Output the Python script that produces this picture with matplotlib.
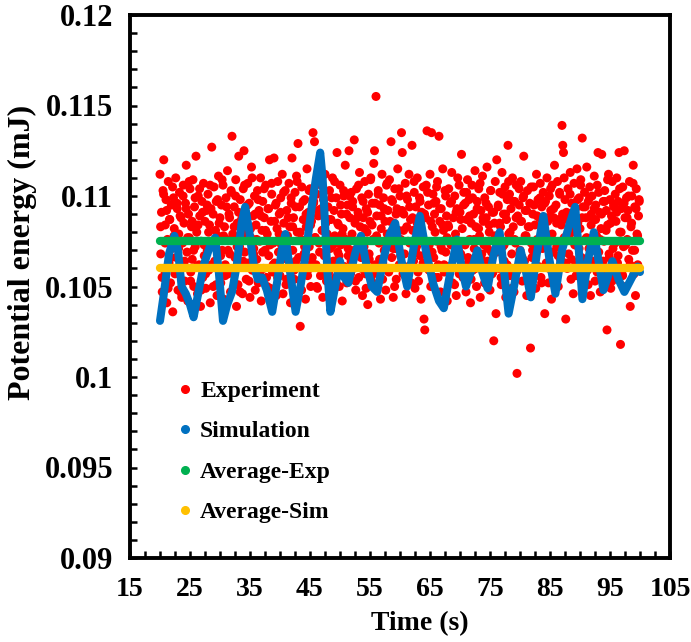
import numpy as np
import matplotlib
matplotlib.use("Agg")
import matplotlib.pyplot as plt
from matplotlib.lines import Line2D
from matplotlib.ticker import MultipleLocator

plt.rcParams['font.family'] = ['Liberation Serif', 'DejaVu Serif']
plt.rcParams['font.weight'] = 'bold'

# ---------------- data ----------------
# Experiment, run A: samples every 0.125 s from 20 s
exp_a_start, exp_a_step = 20.0, 0.125
exp_a_values = [
    0.1112, 0.1068, 0.1091, 0.1047, 0.1103, 0.1120, 0.1059, 0.1084, 0.1098, 0.1041, 0.1076, 0.1108, 0.1063, 0.1087, 0.1052, 0.1095,
    0.1071, 0.1036, 0.1099, 0.1082, 0.1057, 0.1110, 0.1066, 0.1093, 0.1048, 0.1079, 0.1102, 0.1061, 0.1088, 0.1044, 0.1074, 0.1106,
    0.1085, 0.1053, 0.1096, 0.1117, 0.1069, 0.1042, 0.1090, 0.1077, 0.1104, 0.1058, 0.1083, 0.1065, 0.1109, 0.1050, 0.1094, 0.1072,
    0.1122, 0.1080, 0.1046, 0.1100, 0.1062, 0.1089, 0.1039, 0.1075, 0.1097, 0.1055, 0.1107, 0.1067, 0.1086, 0.1049, 0.1092, 0.1070,
    0.1101, 0.1059, 0.1084, 0.1041, 0.1093, 0.1127, 0.1073, 0.1050, 0.1105, 0.1064, 0.1081, 0.1097, 0.1045, 0.1078, 0.1111, 0.1060,
    0.1088, 0.1052, 0.1095, 0.1070, 0.1106, 0.1043, 0.1083, 0.1062, 0.1099, 0.1076, 0.1114, 0.1057, 0.1090, 0.1068, 0.1047, 0.1102,
    0.1133, 0.1079, 0.1058, 0.1094, 0.1066, 0.1109, 0.1039, 0.1085, 0.1051, 0.1122, 0.1072, 0.1098, 0.1061, 0.1087, 0.1046, 0.1104,
    0.1125, 0.1069, 0.1091, 0.1054, 0.1080, 0.1107, 0.1063, 0.1096, 0.1044, 0.1077, 0.1116, 0.1059, 0.1089, 0.1071, 0.1100, 0.1048,
    0.1084, 0.1065, 0.1103, 0.1052, 0.1092, 0.1075, 0.1110, 0.1042, 0.1081, 0.1097, 0.1060, 0.1088, 0.1070, 0.1106, 0.1055, 0.1079,
    0.1093, 0.1067, 0.1120, 0.1049, 0.1086, 0.1101, 0.1058, 0.1074, 0.1121, 0.1063, 0.1095, 0.1045, 0.1082, 0.1108, 0.1069, 0.1090,
    0.1056, 0.1099, 0.1073, 0.1112, 0.1046, 0.1085, 0.1066, 0.1103, 0.1051, 0.1092, 0.1078, 0.1060, 0.1107, 0.1083, 0.1041, 0.1096,
    0.1121, 0.1070, 0.1088, 0.1054, 0.1102, 0.1064, 0.1111, 0.1080, 0.1129, 0.1047, 0.1094, 0.1028, 0.1076, 0.1105, 0.1061, 0.1087,
    0.1068, 0.1098, 0.1043, 0.1083, 0.1115, 0.1059, 0.1091, 0.1072, 0.1104, 0.1050, 0.1086, 0.1066, 0.1135, 0.1097, 0.1130, 0.1077,
    0.1062, 0.1101, 0.1049, 0.1089, 0.1074, 0.1108, 0.1056, 0.1093, 0.1081, 0.1044, 0.1098, 0.1067, 0.1112, 0.1085, 0.1053, 0.1079,
    0.1094, 0.1058, 0.1103, 0.1071, 0.1087, 0.1046, 0.1110, 0.1064, 0.1092, 0.1078, 0.1055, 0.1099, 0.1124, 0.1069, 0.1084, 0.1050,
    0.1106, 0.1073, 0.1090, 0.1042, 0.1082, 0.1100, 0.1061, 0.1117, 0.1076, 0.1052, 0.1095, 0.1067, 0.1125, 0.1088, 0.1057, 0.1102,
    0.1079, 0.1097, 0.1060, 0.1131, 0.1085, 0.1048, 0.1104, 0.1070, 0.1091, 0.1055, 0.1113, 0.1083, 0.1066, 0.1099, 0.1045, 0.1088,
    0.1072, 0.1108, 0.1057, 0.1093, 0.1080, 0.1040, 0.1101, 0.1065, 0.1086, 0.1110, 0.1053, 0.1096, 0.1076, 0.1118, 0.1125, 0.1062,
    0.1155, 0.1089, 0.1051, 0.1103, 0.1074, 0.1095, 0.1043, 0.1082, 0.1112, 0.1063, 0.1099, 0.1070, 0.1086, 0.1048, 0.1106, 0.1079,
    0.1092, 0.1058, 0.1109, 0.1077, 0.1130, 0.1066, 0.1097, 0.1044, 0.1085, 0.1104, 0.1071, 0.1054, 0.1093, 0.1115, 0.1081, 0.1062,
    0.1100, 0.1076, 0.1135, 0.1124, 0.1057, 0.1090, 0.1068, 0.1107, 0.1046, 0.1083, 0.1098, 0.1061, 0.1112, 0.1074, 0.1087, 0.1052,
    0.1128, 0.1081, 0.1064, 0.1102, 0.1049, 0.1094, 0.1072, 0.1110, 0.1058, 0.1087, 0.1099, 0.1067, 0.1043, 0.1091, 0.1077, 0.1105,
    0.1032, 0.1026, 0.1088, 0.1106, 0.1136, 0.1060, 0.1095, 0.1073, 0.1112, 0.1050, 0.1135, 0.1083, 0.1101, 0.1066, 0.1090, 0.1055,
    0.1097, 0.1075, 0.1108, 0.1062, 0.1133, 0.1086, 0.1047, 0.1093, 0.1070, 0.1115, 0.1081, 0.1058, 0.1103, 0.1069, 0.1089, 0.1042,
    0.1084, 0.1104, 0.1061, 0.1096, 0.1073, 0.1113, 0.1052, 0.1088, 0.1066, 0.1100, 0.1079, 0.1045, 0.1093, 0.1110, 0.1070, 0.1057,
    0.1091, 0.1068, 0.1123, 0.1082, 0.1055, 0.1102, 0.1074, 0.1096, 0.1047, 0.1087, 0.1109, 0.1063, 0.1098, 0.1076, 0.1041, 0.1085,
    0.1106, 0.1059, 0.1090, 0.1071, 0.1114, 0.1083, 0.1050, 0.1097, 0.1065, 0.1104, 0.1078, 0.1044, 0.1092, 0.1068, 0.1111, 0.1086,
    0.1073, 0.1099, 0.1054, 0.1088, 0.1116, 0.1064, 0.1094, 0.1080, 0.1048, 0.1103, 0.1069, 0.1091, 0.1058, 0.1020, 0.1085, 0.1108,
    0.1035, 0.1120, 0.1077, 0.1095, 0.1060, 0.1102, 0.1083, 0.1051, 0.1113, 0.1072, 0.1090, 0.1064, 0.1105, 0.1044, 0.1087, 0.1098,
    0.1128, 0.1079, 0.1101, 0.1056, 0.1093, 0.1068, 0.1110, 0.1083, 0.1047, 0.1097, 0.1074, 0.1106, 0.1002, 0.1089, 0.1061, 0.1095,
    0.1070, 0.1108, 0.1086, 0.1053, 0.1099, 0.1122, 0.1064, 0.1092, 0.1078, 0.1045, 0.1103, 0.1083, 0.1059, 0.1096, 0.1016, 0.1074,
    0.1066, 0.1090, 0.1105, 0.1067, 0.1084, 0.1049, 0.1112, 0.1076, 0.1098, 0.1061, 0.1088, 0.1107, 0.1055, 0.1094, 0.1071, 0.1102,
    0.1081, 0.1035, 0.1097, 0.1063, 0.1110, 0.1086, 0.1052, 0.1100, 0.1075, 0.1092, 0.1043, 0.1106, 0.1069, 0.1088, 0.1117, 0.1058,
    0.1095, 0.1072, 0.1108, 0.1050, 0.1087, 0.1101, 0.1065, 0.1084, 0.1139, 0.1128, 0.1124, 0.1077, 0.1098, 0.1032, 0.1091, 0.1060,
    0.1104, 0.1068, 0.1090, 0.1113, 0.1054, 0.1096, 0.1080, 0.1046, 0.1107, 0.1073, 0.1093, 0.1062, 0.1115, 0.1085, 0.1056, 0.1099,
    0.1082, 0.1109, 0.1066, 0.1132, 0.1094, 0.1051, 0.1102, 0.1076, 0.1088, 0.1116, 0.1059, 0.1097, 0.1071, 0.1105, 0.1045, 0.1090,
    0.1100, 0.1064, 0.1087, 0.1111, 0.1053, 0.1095, 0.1078, 0.1106, 0.1124, 0.1069, 0.1091, 0.1047, 0.1082, 0.1123, 0.1060, 0.1097,
    0.1075, 0.1103, 0.1058, 0.1092, 0.1026, 0.1084, 0.1112, 0.1066, 0.1098, 0.1049, 0.1089, 0.1108, 0.1071, 0.1094, 0.1055, 0.1101,
    0.1086, 0.1110, 0.1063, 0.1097, 0.1124, 0.1080, 0.1018, 0.1093, 0.1057, 0.1105, 0.1072, 0.1125, 0.1088, 0.1050, 0.1099, 0.1076,
    0.1092, 0.1065, 0.1108, 0.1039, 0.1083, 0.1100, 0.1070, 0.1117, 0.1057, 0.1094, 0.1045, 0.1104, 0.1079, 0.1062, 0.1089, 0.1097,
]
# Experiment, run B: samples every 0.25 s from 20.1 s
exp_b_start, exp_b_step = 20.1, 0.25
exp_b_values = [
    0.1083, 0.1055, 0.1101, 0.1074, 0.1092, 0.1049, 0.1087, 0.1066, 0.1105, 0.1078, 0.1058, 0.1096, 0.1071, 0.1089, 0.1046, 0.1100,
    0.1064, 0.1093, 0.1077, 0.1108, 0.1053, 0.1086, 0.1070, 0.1099, 0.1061, 0.1084, 0.1104, 0.1048, 0.1091, 0.1073, 0.1057, 0.1095,
    0.1080, 0.1106, 0.1062, 0.1090, 0.1074, 0.1051, 0.1098, 0.1085, 0.1067, 0.1109, 0.1078, 0.1056, 0.1094, 0.1070, 0.1088, 0.1103,
    0.1059, 0.1083, 0.1100, 0.1072, 0.1091, 0.1047, 0.1087, 0.1064, 0.1106, 0.1079, 0.1095, 0.1053, 0.1082, 0.1110, 0.1068, 0.1090,
    0.1076, 0.1098, 0.1057, 0.1089, 0.1069, 0.1104, 0.1081, 0.1050, 0.1093, 0.1073, 0.1107, 0.1062, 0.1086, 0.1096, 0.1055, 0.1079,
    0.1091, 0.1065, 0.1102, 0.1077, 0.1054, 0.1088, 0.1070, 0.1099, 0.1083, 0.1059, 0.1094, 0.1108, 0.1066, 0.1080, 0.1048, 0.1097,
    0.1072, 0.1090, 0.1056, 0.1103, 0.1084, 0.1063, 0.1096, 0.1077, 0.1050, 0.1092, 0.1069, 0.1106, 0.1081, 0.1058, 0.1094, 0.1075,
    0.1087, 0.1061, 0.1099, 0.1073, 0.1108, 0.1052, 0.1085, 0.1067, 0.1095, 0.1079, 0.1103, 0.1058, 0.1090, 0.1071, 0.1100, 0.1064,
    0.1094, 0.1070, 0.1053, 0.1088, 0.1106, 0.1076, 0.1060, 0.1097, 0.1082, 0.1049, 0.1091, 0.1068, 0.1109, 0.1084, 0.1057, 0.1096,
    0.1078, 0.1101, 0.1065, 0.1089, 0.1054, 0.1093, 0.1074, 0.1107, 0.1060, 0.1086, 0.1098, 0.1071, 0.1050, 0.1090, 0.1080, 0.1104,
    0.1067, 0.1092, 0.1081, 0.1056, 0.1100, 0.1075, 0.1094, 0.1062, 0.1088, 0.1108, 0.1070, 0.1085, 0.1053, 0.1097, 0.1079, 0.1063,
    0.1090, 0.1074, 0.1102, 0.1059, 0.1086, 0.1069, 0.1096, 0.1080, 0.1105, 0.1055, 0.1093, 0.1072, 0.1084, 0.1062, 0.1100, 0.1077,
    0.1083, 0.1061, 0.1097, 0.1075, 0.1051, 0.1091, 0.1068, 0.1106, 0.1087, 0.1058, 0.1095, 0.1073, 0.1102, 0.1066, 0.1089, 0.1054,
    0.1099, 0.1076, 0.1060, 0.1093, 0.1082, 0.1107, 0.1065, 0.1088, 0.1052, 0.1096, 0.1071, 0.1084, 0.1103, 0.1057, 0.1091, 0.1078,
    0.1069, 0.1094, 0.1085, 0.1055, 0.1101, 0.1073, 0.1090, 0.1062, 0.1108, 0.1080, 0.1049, 0.1097, 0.1076, 0.1088, 0.1059, 0.1104,
    0.1086, 0.1066, 0.1100, 0.1078, 0.1092, 0.1057, 0.1083, 0.1105, 0.1070, 0.1095, 0.1061, 0.1089, 0.1074, 0.1099, 0.1052, 0.1081,
    0.1096, 0.1072, 0.1088, 0.1060, 0.1104, 0.1079, 0.1093, 0.1054, 0.1085, 0.1067, 0.1102, 0.1075, 0.1090, 0.1110, 0.1063, 0.1087,
    0.1078, 0.1101, 0.1065, 0.1091, 0.1083, 0.1056, 0.1098, 0.1071, 0.1106, 0.1088, 0.1062, 0.1094, 0.1077, 0.1051, 0.1099, 0.1084,
    0.1070, 0.1093, 0.1087, 0.1058, 0.1102, 0.1076, 0.1090, 0.1064, 0.1097, 0.1081, 0.1109, 0.1068, 0.1085, 0.1053, 0.1095, 0.1074,
    0.1091, 0.1067, 0.1104, 0.1080, 0.1056, 0.1096, 0.1073, 0.1088, 0.1100, 0.1062, 0.1085, 0.1107, 0.1070, 0.1093, 0.1078, 0.1098,
]
exp_time = np.concatenate([exp_a_start + exp_a_step * np.arange(len(exp_a_values)),
                           exp_b_start + exp_b_step * np.arange(len(exp_b_values))])
exp_values = np.array(exp_a_values + exp_b_values)

sim_time = [20.0, 20.6, 21.5, 22.4, 23.0, 23.6, 24.3, 25.0, 25.6, 26.3, 27.3, 28.3, 29.2, 29.8,
            30.5, 31.2, 32.0, 32.8, 33.6, 34.2, 34.9, 35.6, 36.3, 37.0, 37.8, 38.7, 39.5, 40.3,
            40.9, 41.6, 42.6, 43.4, 44.3, 45.2, 46.0, 46.7, 47.1, 47.5, 47.9, 48.4, 49.2, 50.0,
            50.7, 51.4, 52.5, 53.5, 54.4, 55.3, 56.2, 57.3, 58.3, 59.2, 60.2, 61.2, 62.3, 63.3,
            64.3, 65.5, 66.5, 67.3, 68.4, 69.5, 70.3, 71.0, 72.0, 72.9, 73.7, 74.6, 75.5, 76.6,
            77.3, 78.1, 79.0, 80.1, 81.0, 81.8, 82.8, 83.9, 84.9, 85.9, 87.0, 88.3, 89.2, 89.8,
            90.4, 91.3, 92.3, 93.2, 93.9, 94.6, 95.4, 96.4, 97.4, 98.5, 99.6, 100.0]
sim_values = [0.1031, 0.1045, 0.1068, 0.1078, 0.1070, 0.1050, 0.1046, 0.1040, 0.1033, 0.1045, 0.1062, 0.1072, 0.1077, 0.1058,
              0.1031, 0.1040, 0.1047, 0.1062, 0.1085, 0.1094, 0.1080, 0.1062, 0.1054, 0.1055, 0.1048, 0.1036, 0.1052, 0.1070,
              0.1079, 0.1060, 0.1036, 0.1050, 0.1068, 0.1092, 0.1110, 0.1124, 0.1110, 0.1085, 0.1058, 0.1036, 0.1050, 0.1064,
              0.1055, 0.1052, 0.1068, 0.1078, 0.1062, 0.1050, 0.1047, 0.1066, 0.1079, 0.1085, 0.1065, 0.1050, 0.1072, 0.1089,
              0.1070, 0.1052, 0.1042, 0.1038, 0.1058, 0.1076, 0.1060, 0.1050, 0.1060, 0.1070, 0.1058, 0.1049, 0.1066, 0.1080,
              0.1060, 0.1035, 0.1050, 0.1070, 0.1058, 0.1044, 0.1068, 0.1089, 0.1065, 0.1046, 0.1070, 0.1085, 0.1094, 0.1070,
              0.1043, 0.1064, 0.1080, 0.1062, 0.1048, 0.1055, 0.1064, 0.1054, 0.1047, 0.1054, 0.1061, 0.1058]

avg_time = [20.0, 100.0]
avg_exp = 0.1075
avg_sim = 0.1060

series_labels = ["Experiment", "Simulation", "Average-Exp", "Average-Sim"]
series_colors = ["#FF0000", "#0070C0", "#00B050", "#FFC000"]

x_ticks = [15, 25, 35, 45, 55, 65, 75, 85, 95, 105]
y_ticks = [0.09, 0.095, 0.1, 0.105, 0.11, 0.115, 0.12]
y_tick_labels = ["0.09", "0.095", "0.1", "0.105", "0.11", "0.115", "0.12"]

# ---------------- figure ----------------
W, H = 691, 642
fig = plt.figure(figsize=(W / 100, H / 100), dpi=100)
ax = fig.add_axes([130 / W, 1 - 558 / H, 540 / W, 543 / H])

ax.scatter(exp_time, exp_values, s=42, color=series_colors[0], edgecolors='none', zorder=2)
ax.plot(sim_time, sim_values, color=series_colors[1], lw=5.8, solid_capstyle='round',
        solid_joinstyle='round', zorder=3)
ax.plot(avg_time, [avg_exp, avg_exp], color=series_colors[2], lw=6.0, solid_capstyle='round', zorder=4)
ax.plot(avg_time, [avg_sim, avg_sim], color=series_colors[3], lw=6.0, solid_capstyle='round', zorder=4)

ax.set_xlim(15, 105)
ax.set_ylim(0.09, 0.12)
ax.set_xticks(x_ticks)
ax.set_xticklabels([str(v) for v in x_ticks])
ax.set_yticks(y_ticks)
ax.set_yticklabels(y_tick_labels)
ax.xaxis.set_minor_locator(MultipleLocator(2.5))
ax.yaxis.set_minor_locator(MultipleLocator(0.001))

ax.tick_params(axis='both', which='both', direction='in', width=1.8, length=5,
               top=False, right=False)
ax.tick_params(axis='y', which='major', pad=12, labelsize=22)
ax.tick_params(axis='x', which='major', pad=14, labelsize=20)
for lab in ax.get_xticklabels() + ax.get_yticklabels():
    lab.set_fontweight('bold')

for sp in ax.spines.values():
    sp.set_linewidth(2.8)

ax.set_xlabel("Time (s)", fontsize=20, fontweight='bold')
ax.set_ylabel("Potential energy (mJ)", fontsize=23, fontweight='bold')
ax.xaxis.set_label_coords(0.537, -0.098)
ax.yaxis.set_label_coords(-0.172, 0.563)

handles = [Line2D([], [], ls='none', marker='o', markersize=5.5, color=c) for c in series_colors]
ax.legend(handles, series_labels, loc='upper left', bbox_to_anchor=(0.049, 0.366),
          frameon=False, prop={'family': 'Liberation Serif', 'weight': 'bold', 'size': 17},
          handlelength=0.6, handletextpad=0.35, labelspacing=0.8)

fig.savefig("out.png", dpi=100)
